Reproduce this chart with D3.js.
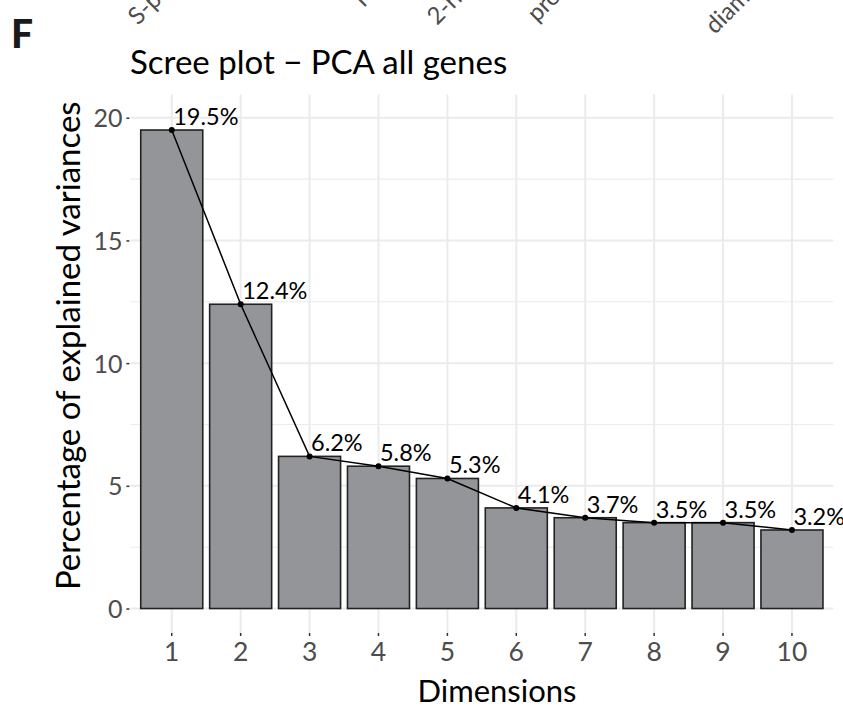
<!DOCTYPE html>
<html>
<head>
<meta charset="utf-8">
<script src="https://cdn.jsdelivr.net/npm/d3@7/dist/d3.min.js"></script>
<style>
  html, body { margin: 0; padding: 0; background: #fff; }
  svg { display: block; font-family: Lato, "Open Sans", sans-serif; }
</style>
</head>
<body>
<svg id="chart" width="843" height="706"></svg>
<script>
// Principal components and their share of explained variance (%)
const dimensions = [1, 2, 3, 4, 5, 6, 7, 8, 9, 10];
const variancePct = [19.5, 12.4, 6.2, 5.8, 5.3, 4.1, 3.7, 3.5, 3.5, 3.2];
const yTicks = [0, 5, 10, 15, 20];
const yMinorTicks = [2.5, 7.5, 12.5, 17.5];

// Rotated axis labels from the panel above, cut off by the top edge
const upperPanelLabels = ["S-phase", "r", "2-ri", "pro", "diam"];
const upperPanelLabelPos = [[138, 26], [364, 8], [437, 26], [537, 23], [715, 35]];

const svg = d3.select("#chart");

const panel = { left: 130.4, right: 833.3, top: 94.5, bottom: 633 };

const x = d3.scaleBand()
  .domain(dimensions)
  .range([panel.left, panel.right])
  .paddingInner(0.1)
  .paddingOuter(0.15);

const y = d3.scaleLinear()
  .domain([-0.9975, 20.9475])
  .range([panel.bottom, panel.top]);

const cx = d => x(d) + x.bandwidth() / 2;

// Panel label
svg.append("text")
  .attr("x", 11).attr("y", 48)
  .attr("font-size", 39).attr("font-weight", 900)
  .attr("fill", "#1a1a1a")
  .text("F");

// Clipped labels of the upper panel
svg.append("g").selectAll("text")
  .data(upperPanelLabels)
  .join("text")
  .attr("transform", (d, i) => `translate(${upperPanelLabelPos[i][0]},${upperPanelLabelPos[i][1]}) rotate(-45)`)
  .attr("font-size", 24)
  .attr("fill", "#4d4d4d")
  .text(d => d);

// Title
svg.append("text")
  .attr("x", 130).attr("y", 74)
  .attr("font-size", 33)
  .attr("fill", "#000")
  .text("Scree plot \u2212 PCA all genes");

// Grid
const grid = svg.append("g");
grid.selectAll("line.minor")
  .data(yMinorTicks)
  .join("line")
  .attr("x1", panel.left).attr("x2", panel.right)
  .attr("y1", d => y(d)).attr("y2", d => y(d))
  .attr("stroke", "#ebebeb").attr("stroke-width", 1.1);
grid.selectAll("line.majorY")
  .data(yTicks)
  .join("line")
  .attr("x1", panel.left).attr("x2", panel.right)
  .attr("y1", d => y(d)).attr("y2", d => y(d))
  .attr("stroke", "#ebebeb").attr("stroke-width", 2);
grid.selectAll("line.majorX")
  .data(dimensions)
  .join("line")
  .attr("x1", d => cx(d)).attr("x2", d => cx(d))
  .attr("y1", panel.top).attr("y2", panel.bottom)
  .attr("stroke", "#ebebeb").attr("stroke-width", 2);

// Bars
svg.append("g").selectAll("rect")
  .data(dimensions)
  .join("rect")
  .attr("x", d => x(d))
  .attr("width", x.bandwidth())
  .attr("y", (d, i) => y(variancePct[i]))
  .attr("height", (d, i) => y(0) - y(variancePct[i]))
  .attr("fill", "#939598")
  .attr("stroke", "#222")
  .attr("stroke-width", 1.6);

// Connecting line and points
const line = d3.line()
  .x((d, i) => cx(dimensions[i]))
  .y(d => y(d));
svg.append("path")
  .datum(variancePct)
  .attr("d", line)
  .attr("fill", "none")
  .attr("stroke", "#000")
  .attr("stroke-width", 1.5);
svg.append("g").selectAll("circle")
  .data(variancePct)
  .join("circle")
  .attr("cx", (d, i) => cx(dimensions[i]))
  .attr("cy", d => y(d))
  .attr("r", 3)
  .attr("fill", "#000");

// Value labels
svg.append("g").selectAll("text")
  .data(variancePct)
  .join("text")
  .attr("x", (d, i) => cx(dimensions[i]) + 1.5)
  .attr("y", d => y(d) - 5)
  .attr("font-size", 23.5)
  .attr("fill", "#000")
  .text(d => d.toFixed(1) + "%");

// Axes
const yAxis = d3.axisLeft(y).tickValues(yTicks).tickSize(3).tickPadding(4);
const yG = svg.append("g")
  .attr("transform", `translate(${panel.left - 1},0)`)
  .call(yAxis);
yG.select(".domain").remove();
yG.selectAll(".tick line").attr("stroke", "#333").attr("stroke-width", 1.5);
yG.selectAll(".tick text")
  .attr("font-size", 25).attr("fill", "#4d4d4d")
  .attr("font-family", "Lato, 'Open Sans', sans-serif")
  .attr("dy", "0.36em");

const xAxis = d3.axisBottom(x).tickSize(3).tickPadding(6);
const xG = svg.append("g")
  .attr("transform", `translate(0,${panel.bottom})`)
  .call(xAxis);
xG.select(".domain").remove();
xG.selectAll(".tick line").attr("stroke", "#333").attr("stroke-width", 1.5);
xG.selectAll(".tick text")
  .attr("font-size", 26.5).attr("fill", "#4d4d4d")
  .attr("font-family", "Lato, 'Open Sans', sans-serif");

// Axis titles
svg.append("text")
  .attr("x", 497).attr("y", 702)
  .attr("text-anchor", "middle")
  .attr("font-size", 31)
  .attr("fill", "#000")
  .text("Dimensions");

svg.append("text")
  .attr("transform", `translate(80,${(panel.top + panel.bottom) / 2 - 18}) rotate(-90)`)
  .attr("text-anchor", "middle")
  .attr("font-size", 33)
  .attr("fill", "#000")
  .text("Percentage of explained variances");
</script>
</body>
</html>
